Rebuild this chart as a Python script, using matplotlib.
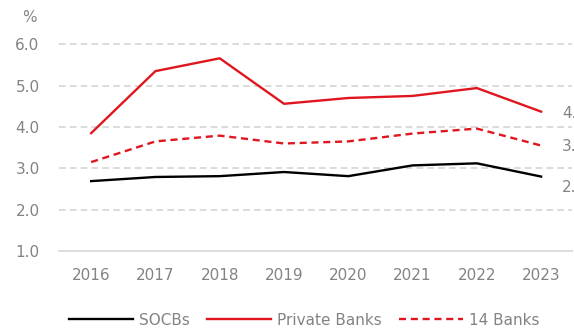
import matplotlib

matplotlib.use("Agg")
import matplotlib.pyplot as plt  # noqa: E402

YEARS = ["2016", "2017", "2018", "2019", "2020", "2021", "2022", "2023"]
SOCBS = [2.69, 2.79, 2.81, 2.91, 2.81, 3.07, 3.12, 2.80]
PRIVATE = [3.85, 5.35, 5.66, 4.56, 4.70, 4.75, 4.94, 4.37]
BANKS14 = [3.15, 3.65, 3.79, 3.60, 3.65, 3.84, 3.96, 3.55]
END_LABELS = ["2.8", "4.4", "3.5"]
YTICKS = [1.0, 2.0, 3.0, 4.0, 5.0, 6.0]

RED = "#e0161f"
GREY = "#838383"

plt.rcParams["font.family"] = ["DejaVu Sans"]

fig = plt.figure(figsize=(5.74, 3.30), dpi=100)
ax = fig.add_axes([0.1028, 0.2394, 0.8937, 0.6303])

x = range(len(YEARS))
ax.plot(x, SOCBS, color="black", lw=1.7, label="SOCBs")
ax.plot(x, PRIVATE, color=RED, lw=1.7, label="Private Banks")
ax.plot(x, BANKS14, color=RED, lw=1.7, ls=(0, (3, 2)), label="14 Banks")

# end-of-line value labels (cut by the figure edge as in the original)
for vals, lab, dy in ((SOCBS, END_LABELS[0], -8), (PRIVATE, END_LABELS[1], -1),
                      (BANKS14, END_LABELS[2], -1)):
    ax.annotate(lab, xy=(len(YEARS) - 1, vals[-1]), xytext=(15, dy),
                textcoords="offset points", va="center", ha="left",
                color=GREY, fontsize=11, annotation_clip=False)

ax.set_xlim(-0.5, 7.48)
ax.set_ylim(1.0, 6.03)
ax.set_xticks(list(x))
ax.set_xticklabels(YEARS)
ax.set_yticks(YTICKS)
ax.set_yticklabels([f"{v:.1f}" for v in YTICKS])
ax.tick_params(axis="y", length=0, pad=14, labelsize=11, labelcolor=GREY)
ax.tick_params(axis="x", length=0, pad=12, labelsize=11, labelcolor=GREY)

for s in ("top", "right", "left"):
    ax.spines[s].set_visible(False)
ax.spines["bottom"].set_color("#d9d9d9")
ax.spines["bottom"].set_linewidth(1.3)
ax.yaxis.grid(True, color="#d4d4d4", lw=1.2, ls=(0, (4, 2.5)))
ax.set_axisbelow(True)
ax.yaxis.get_gridlines()[0].set_visible(False)

fig.text(0.052, 0.948, "%", color=GREY, fontsize=11, ha="center", va="center")

ax.legend(loc="lower center", bbox_to_anchor=(0.53, -0.035),
          bbox_transform=fig.transFigure, frameon=False, ncol=3, fontsize=11,
          handlelength=4.2, handletextpad=0.4, columnspacing=1.1,
          labelcolor=GREY)

fig.savefig("out.png", dpi=100)
